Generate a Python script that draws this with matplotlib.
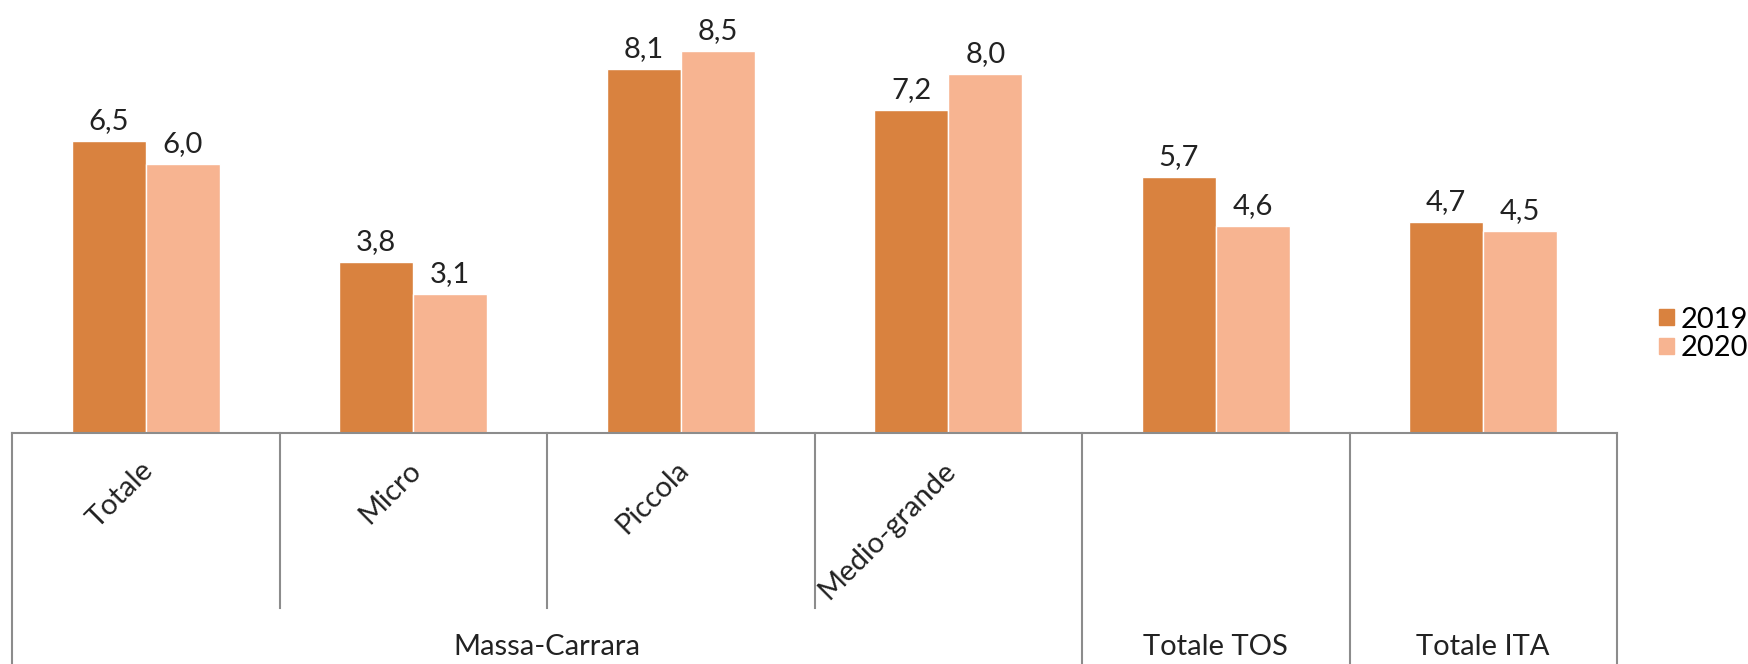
import numpy as np
import matplotlib.pyplot as plt
from matplotlib.patches import Patch

plt.rcParams['font.family'] = ['Lato', 'DejaVu Sans']

# Data
categories = ['Totale', 'Micro', 'Piccola', 'Medio-grande', '', '']
groups = ['Massa-Carrara', 'Totale TOS', 'Totale ITA']
values_2019 = [6.5, 3.8, 8.1, 7.2, 5.7, 4.7]
values_2020 = [6.0, 3.1, 8.5, 8.0, 4.6, 4.5]
series = ['2019', '2020']
colors = ['#D9823F', '#F7B491']

W, H = 1748, 664
fig = plt.figure(figsize=(W / 100, H / 100), dpi=100)
fs = 21

# axes area in pixels
left_px, right_px, base_px = 12, 1617, 433
ppu = 44.9  # pixels per data unit
ax = fig.add_axes([left_px / W, (H - base_px) / H, (right_px - left_px) / W, base_px / H])
ax.set_xlim(-0.5, 5.5)
ax.set_ylim(0, base_px / ppu)
ax.axis('off')

x = np.arange(len(categories))
bw = 0.277
b1 = ax.bar(x - bw / 2, values_2019, bw, color=colors[0], edgecolor='white', linewidth=1, label=series[0])
b2 = ax.bar(x + bw / 2, values_2020, bw, color=colors[1], edgecolor='white', linewidth=1, label=series[1])

for bars in (b1, b2):
    for r in bars:
        v = r.get_height()
        ax.annotate(f'{v:.1f}'.replace('.', ','), (r.get_x() + r.get_width() / 2, v),
                    xytext=(0, 5), textcoords='offset points', ha='center', va='bottom',
                    fontsize=fs, color='#222222')

# table lines under the axis
lc = '#8c8c8c'
ax.plot([-0.5, 5.5], [0, 0], color=lc, lw=1.5, clip_on=False)
for xv in [0.5, 1.5, 2.5]:
    ax.plot([xv, xv], [0, -175 / ppu], color=lc, lw=1.5, clip_on=False)
for xv in [-0.5, 3.5, 4.5, 5.5]:
    ax.plot([xv, xv], [0, -10], color=lc, lw=1.5, clip_on=False)

# rotated category labels
for i, c in enumerate(categories):
    if c:
        ax.text(i - 0.02, -0.53, c, rotation=45, rotation_mode='anchor',
                ha='right', va='top', fontsize=fs, color='#222222')

# group labels
group_x = [1.5, 4, 5]
for gx, g in zip(group_x, groups):
    ax.text(gx, -214 / ppu, g, ha='center', va='center', fontsize=fs, color='#222222')

handles = [Patch(color=colors[0]), Patch(color=colors[1])]
fig.legend(handles, series, loc='center left', bbox_to_anchor=(1659 / W, 1 - 334 / H),
           frameon=False, fontsize=fs, handlelength=0.5, handleheight=0.5,
           handletextpad=0.25, labelspacing=0.1, borderpad=0, borderaxespad=0)

fig.savefig('out.png', dpi=100)
